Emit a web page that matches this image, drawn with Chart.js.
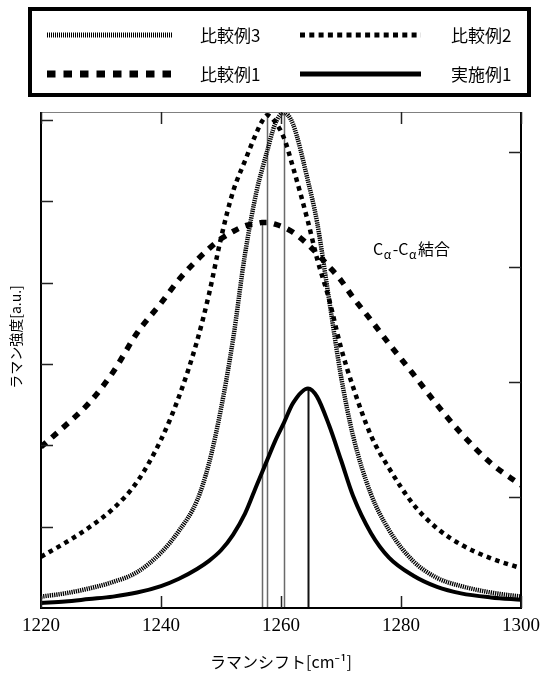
<!DOCTYPE html>
<html>
<head>
<meta charset="utf-8">
<script src="https://cdn.jsdelivr.net/npm/chart.js@4.4.1/dist/chart.umd.min.js"></script>
<style>
  html, body { margin: 0; padding: 0; background: #ffffff; }
  #wrap { width: 547px; height: 684px; }
</style>
</head>
<body>
<div id="wrap"><canvas id="c" width="547" height="684"></canvas></div>
<script>
// ---- data ----
const shiftX = [1220,1224,1228,1232,1236,1240,1243,1246,1248,1250,1252,1254,1256,1256.8,1257.7,1259,1260.5,1262,1264.5,1266,1268,1270,1272,1275,1278,1282,1286,1290,1295,1300];
const comparative3 = [0.14,0.18,0.24,0.32,0.44,0.68,0.95,1.32,1.78,2.45,3.30,4.35,5.15,5.38,5.62,5.95,6.09,5.95,5.25,4.75,3.80,2.85,2.12,1.40,0.96,0.58,0.37,0.27,0.19,0.14];
const comparative2 = [0.63,0.80,0.99,1.22,1.55,2.07,2.60,3.28,3.86,4.55,5.12,5.50,5.86,5.98,6.06,5.98,5.78,5.42,4.75,4.30,3.80,3.20,2.72,2.12,1.72,1.28,0.98,0.78,0.61,0.49];
const comparative1 = [1.98,2.24,2.52,2.90,3.38,3.75,4.04,4.28,4.42,4.54,4.63,4.70,4.73,4.74,4.74,4.72,4.68,4.62,4.47,4.36,4.20,4.03,3.82,3.54,3.25,2.88,2.50,2.15,1.78,1.51];
const example1 = [0.06,0.08,0.11,0.14,0.19,0.27,0.36,0.48,0.58,0.71,0.90,1.16,1.52,1.66,1.82,2.05,2.28,2.52,2.70,2.60,2.25,1.82,1.38,0.92,0.62,0.40,0.26,0.18,0.13,0.10];
const seriesNames = ['比較例3','比較例2','比較例1','実施例1'];
const xTickValues = [1220,1240,1260,1280,1300];
const leftTickValues = [1,2,3,4,5,6];
const rightTickValues = [1,2,3,4];
const xTitle = 'ラマンシフト[cm⁻¹]';
const yTitle = 'ラマン強度[a.u.]';
const bondLabel = ['C','α','-C','α','結合'];

const toPts = arr => arr.map((v, i) => ({x: shiftX[i], y: v}));

const styles = [
  {borderColor:'#000000', borderWidth:4.5, borderDash:[1.3,0.9], peakColor:'#6a6a6a', peakWidth:1.5},
  {borderColor:'#000000', borderWidth:4.5, borderDash:[4.5,4.5], peakColor:'#6a6a6a', peakWidth:1.5},
  {borderColor:'#000000', borderWidth:5.5, borderDash:[7,7.5], peakColor:'#6a6a6a', peakWidth:1.5},
  {borderColor:'#000000', borderWidth:4, borderDash:[], peakColor:'#111111', peakWidth:2}
];
const seriesData = [comparative3, comparative2, comparative1, example1];

const datasets = seriesData.map((arr, i) => ({
  label: seriesNames[i],
  data: toPts(arr),
  borderColor: styles[i].borderColor,
  borderWidth: styles[i].borderWidth,
  borderDash: styles[i].borderDash,
  borderCapStyle: 'butt',
  pointRadius: 0,
  fill: false,
  cubicInterpolationMode: 'monotone',
  yAxisID: 'y'
}));

const JP = "'Noto Sans CJK JP', 'Noto Sans', sans-serif";

const framePlugin = {
  id: 'frame',
  beforeDatasetsDraw(chart) {
    const {ctx, scales: {x, y}} = chart;
    ctx.save();
    seriesData.forEach((arr, i) => {
      let idx = 0;
      arr.forEach((v, j) => { if (v > arr[idx]) idx = j; });
      const px = Math.round(x.getPixelForValue(shiftX[idx])) + 0.5;
      ctx.strokeStyle = styles[i].peakColor;
      ctx.lineWidth = styles[i].peakWidth;
      ctx.beginPath();
      ctx.moveTo(px, y.getPixelForValue(arr[idx]));
      ctx.lineTo(px, y.getPixelForValue(0));
      ctx.stroke();
    });
    ctx.restore();
  },
  afterDraw(chart) {
    const {ctx, chartArea: a, scales: {x, y, y2}} = chart;
    ctx.save();
    // frame
    ctx.strokeStyle = '#808080';
    ctx.lineWidth = 1;
    ctx.beginPath();
    ctx.moveTo(a.left, a.top + 0.5); ctx.lineTo(a.right, a.top + 0.5);
    ctx.stroke();
    ctx.strokeStyle = '#000';
    ctx.lineWidth = 2;
    ctx.beginPath();
    ctx.moveTo(a.left, a.top); ctx.lineTo(a.left, a.bottom);
    ctx.lineTo(a.right, a.bottom); ctx.lineTo(a.right, a.top);
    ctx.stroke();
    // ticks
    const L = 12;
    ctx.lineWidth = 1.5;
    ctx.strokeStyle = '#222';
    ctx.beginPath();
    xTickValues.forEach(v => {
      const px = Math.round(x.getPixelForValue(v)) + 0.5;
      ctx.moveTo(px, a.bottom); ctx.lineTo(px, a.bottom - L);
      ctx.moveTo(px, a.top); ctx.lineTo(px, a.top + L);
    });
    leftTickValues.forEach(v => {
      const py = Math.round(y.getPixelForValue(v)) + 0.5;
      ctx.moveTo(a.left, py); ctx.lineTo(a.left + L, py);
    });
    rightTickValues.forEach(v => {
      const py = Math.round(y2.getPixelForValue(v)) + 0.5;
      ctx.moveTo(a.right, py); ctx.lineTo(a.right - L, py);
    });
    ctx.stroke();

    // y title
    ctx.fillStyle = '#000';
    ctx.font = '14px ' + JP;
    ctx.textAlign = 'center';
    ctx.textBaseline = 'middle';
    ctx.save();
    ctx.translate(16, 337);
    ctx.rotate(-Math.PI / 2);
    ctx.fillText(yTitle, 0, 0);
    ctx.restore();

    // bond annotation
    ctx.textAlign = 'left';
    ctx.textBaseline = 'alphabetic';
    let tx = 373;
    const base = 255;
    bondLabel.forEach((s, i) => {
      const sub = (i === 1 || i === 3);
      ctx.font = (sub ? '12px ' : '16px ') + JP;
      ctx.fillText(s, tx, base + (sub ? 4 : 0));
      tx += ctx.measureText(s).width + (sub ? 1.5 : 0.5);
    });

    // legend
    const bx = 28, by = 7, bw = 503, bh = 90;
    ctx.strokeStyle = '#000';
    ctx.lineWidth = 4;
    ctx.strokeRect(bx + 2, by + 2, bw - 4, bh - 4);
    const cols = [{s: 47, e: 172, t: 200}, {s: 300, e: 421, t: 451}];
    const rows = [35, 74];
    chart.data.datasets.forEach((ds, i) => {
      const c = cols[i % 2], r = rows[Math.floor(i / 2)];
      ctx.save();
      ctx.strokeStyle = ds.borderColor;
      ctx.lineWidth = i === 0 ? 5 : (i === 2 ? 7 : 5);
      ctx.lineCap = 'butt';
      ctx.setLineDash(i === 0 ? [1,1] : (i === 1 ? [5,4.3] : (i === 2 ? [8.5,8] : [])));
      ctx.beginPath();
      ctx.moveTo(c.s, r); ctx.lineTo(c.e, r);
      ctx.stroke();
      ctx.restore();
      ctx.fillStyle = '#000';
      ctx.font = '17px ' + JP;
      ctx.textBaseline = 'middle';
      ctx.fillText(ds.label, c.t, r + 1);
    });
    ctx.restore();
  }
};

new Chart(document.getElementById('c'), {
  type: 'line',
  data: { datasets },
  options: {
    responsive: false,
    animation: false,
    events: [],
    layout: { padding: { top: 112, left: 0, right: 0, bottom: 0 } },
    plugins: { legend: { display: false }, tooltip: { enabled: false } },
    scales: {
      x: {
        type: 'linear', min: 1220, max: 1300,
        afterBuildTicks: s => { s.ticks = xTickValues.map(v => ({value: v})); },
        ticks: { color: '#000', font: { family: "'Liberation Serif', 'Times New Roman', serif", size: 19 }, padding: 7, maxRotation: 0, callback: v => String(v) },
        grid: { display: false, drawTicks: false },
        border: { display: false },
        title: { display: true, text: xTitle, color: '#000', font: { family: JP, size: 16 }, padding: { top: 0, bottom: 12 } },
        afterFit: s => { s.height = 76; }
      },
      y: {
        position: 'left', min: 0, max: 6.1,
        ticks: { display: false },
        grid: { display: false, drawTicks: false },
        border: { display: false },
        afterFit: s => { s.width = 41; }
      },
      y2: {
        position: 'right', min: 0.035, max: 4.35,
        ticks: { display: false },
        grid: { display: false, drawTicks: false },
        border: { display: false },
        afterFit: s => { s.width = 19; }
      }
    }
  },
  plugins: [framePlugin]
});
</script>
</body>
</html>
